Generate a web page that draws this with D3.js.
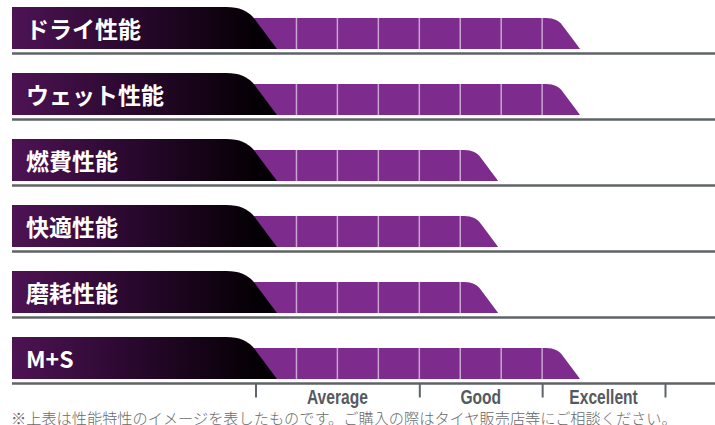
<!DOCTYPE html>
<html><head><meta charset="utf-8">
<script src="https://cdn.jsdelivr.net/npm/d3@7/dist/d3.min.js"></script>
<style>html,body{margin:0;padding:0;background:#fff;overflow:hidden}</style>
</head><body>
<svg id="chart" width="715" height="425"></svg>
<script>
const categories = ["ドライ性能","ウェット性能","燃費性能","快適性能","磨耗性能","M+S"];
const values = [8, 8, 6, 6, 6, 8];
const tickValues = [0, 4, 7, 10];
const levelLabels = ["Average", "Good", "Excellent"];
const levelPositions = [2, 5.5, 8.5];
const footnote = "※上表は性能特性のイメージを表したものです。ご購入の際はタイヤ販売店等にご相談ください。";

const svg = d3.select("#chart");
const x = d3.scaleLinear().domain([0, 10]).range([255.5, 665]);
const y = d3.scaleBand().domain(categories).range([7, 7 + 66 * categories.length]).paddingInner(0);

const defs = svg.append("defs");
const grad = defs.append("linearGradient").attr("id", "hdr")
  .attr("gradientUnits", "userSpaceOnUse").attr("x1", 12).attr("x2", 255).attr("y1", 0).attr("y2", 0);
grad.append("stop").attr("offset", 0).attr("stop-color", "#4e1354");
grad.append("stop").attr("offset", 0.45).attr("stop-color", "#2c0931");
grad.append("stop").attr("offset", 1).attr("stop-color", "#050005");

const H = 42, barTop = 11;
const rows = svg.selectAll("g.row").data(categories).join("g").attr("class", "row")
  .attr("transform", d => `translate(0,${y(d)})`);

rows.each(function(d, i) {
  const g = d3.select(this);
  const v = values[i];
  const x0 = x(v - 1), x1 = x(v);
  const t = barTop, b = H;
  const p = `M${x(0) - 20},${t} H${x0 + 4} C${x0 + 12},${t} ${x0 + 17},${t + 3} ${x0 + 20},${t + 7} L${x1 - 3},${b} H${x(0) - 20} Z`;
  g.append("path").attr("d", p).attr("fill", "#7e2b8e");
  g.selectAll("line.div").data(d3.range(1, v)).join("line").attr("class", "div")
    .attr("x1", k => x(k)).attr("x2", k => x(k)).attr("y1", t).attr("y2", b)
    .attr("stroke", "#c9a4d1").attr("stroke-width", 1.5);
  const he = x(0) + 21.5;
  const hp = `M12,0 H${he - 51} C${he - 37},0 ${he - 30},4 ${he - 24},10 L${he},${H} H12 Z`;
  g.append("path").attr("d", hp).attr("fill", "url(#hdr)");
  g.append("text").attr("x", 26).attr("y", 30.5).text(d)
    .attr("fill", "#fff").attr("font-family", "'Noto Sans CJK JP', sans-serif")
    .attr("font-weight", "bold").attr("font-size", 23);
  g.append("line").attr("x1", 12).attr("x2", 715).attr("y1", 46.5).attr("y2", 46.5)
    .attr("stroke", "#5f6367").attr("stroke-width", 2.5);
});

const axisY = y(categories[categories.length - 1]) + 46.5;
const axis = d3.axisBottom(x).tickValues(tickValues).tickSize(14).tickFormat("");
const ag = svg.append("g").attr("transform", `translate(0,${axisY})`).call(axis);
ag.select(".domain").remove();
ag.selectAll(".tick line").attr("stroke", "#5f6367").attr("stroke-width", 2);

svg.selectAll("text.lvl").data(levelLabels).join("text").attr("class", "lvl")
  .attr("transform", (d, i) => `translate(${x(levelPositions[i])},403.5) scale(0.8,1)`)
  .attr("text-anchor", "middle")
  .attr("font-family", "'Liberation Sans', Arial, sans-serif")
  .attr("font-weight", "bold").attr("font-size", 19.5).attr("fill", "#555a5f").text(d => d);

svg.append("text").attr("x", 11).attr("y", 423.5).text(footnote)
  .attr("font-family", "'Noto Sans CJK JP', sans-serif").attr("font-size", 15.2)
  .attr("font-weight", 300).attr("fill", "#6a6a6a");
</script>
</body></html>
